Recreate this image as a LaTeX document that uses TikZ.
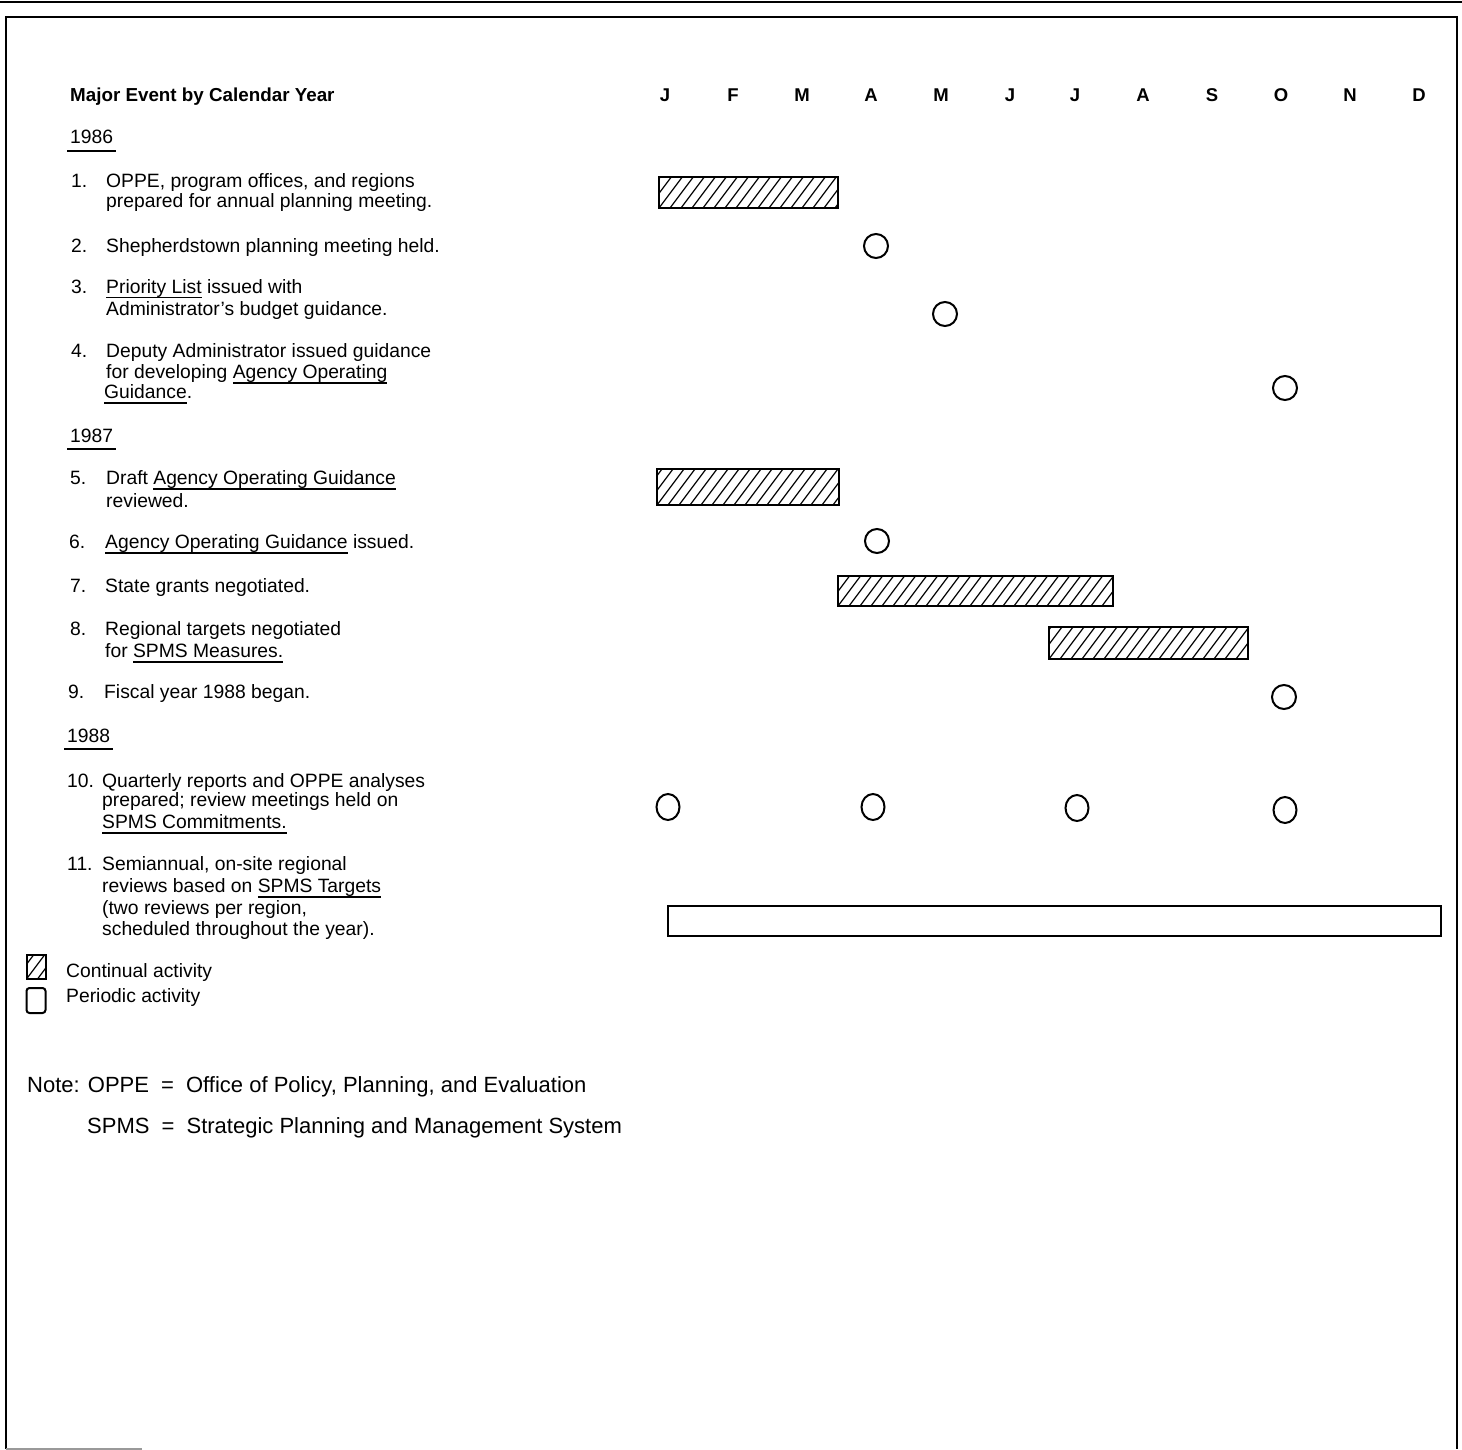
\documentclass[tikz,border=0pt]{standalone}
\usepackage{fontspec}
\setmainfont{Liberation Sans}
\usetikzlibrary{shapes.geometric}

\newsavebox\ulbox
% underlined term: rule a little below the baseline, under the descenders
\newcommand\ul[1]{\sbox\ulbox{#1}\rlap{\rule[-5.5pt]{\wd\ulbox}{1.5pt}}\usebox\ulbox}
% year heading with its short heavy rule
\newcommand\yr[1]{\sbox\ulbox{#1}\rlap{\kern-3pt\rule[-8pt]{\dimexpr\wd\ulbox+6pt\relax}{2pt}}\usebox\ulbox}

\begin{document}
\begin{tikzpicture}[x=1pt,y=-1pt,
  txt/.style={anchor=base west, inner sep=0pt, font=\fontsize{19.3}{21}\selectfont},
  head/.style={anchor=base west, inner sep=0pt, font=\fontsize{18.8}{21}\selectfont\bfseries},
  month/.style={anchor=base, inner sep=0pt, font=\fontsize{18.5}{21}\selectfont\bfseries},
  notetxt/.style={anchor=base west, inner sep=0pt, font=\fontsize{22}{26}\selectfont},
  hatchbar/.style={draw, line width=2pt, rectangle, inner sep=0pt,
    path picture={
      \foreach \i in {-4,...,28}
        \draw[line width=1.2pt] ([xshift=\i*11pt]path picture bounding box.south west) -- ++(30pt,40pt);
    }},
  openbar/.style={draw, line width=2pt, rectangle, inner sep=0pt},
  event/.style={draw, circle, line width=2pt, minimum size=24pt, inner sep=0pt},
  qevent/.style={draw, ellipse, line width=2pt, minimum width=23pt, minimum height=26pt, inner sep=0pt},
]
\useasboundingbox (0,0) rectangle (1462,1450);

% page frame
\draw[line width=2pt] (0,2) -- (1462,2);
\draw[line width=1.5pt] (6,1449) -- (6,17) -- (1457,17) -- (1457,1449);
\draw[line width=1.5pt, black!40] (6,1449) -- (142,1449);

% column heading and months
\node[head] (title) at (70,102) {Major Event by Calendar Year};
\foreach \m/\x [count=\k] in {J/665,F/733,M/802,A/871,M/941,J/1010,J/1075,A/1143,S/1212,O/1281,N/1350,D/1419}
  \node[month] (m\k) at (\x,102) {\m};

% 1986
\node[txt] (y86) at (70,144) {\yr{1986}};

\node[txt] (n1) at (71,188) {1.};
\node[txt] (t1a) at (106,188) {OPPE, program offices, and regions};
\node[txt] (t1b) at (106,208) {prepared for annual planning meeting.};

\node[txt] (n2) at (71,252) {2.};
\node[txt] (t2a) at (106,252) {Shepherdstown planning meeting held.};

\node[txt] (n3) at (71,293) {3.};
\node[txt] (t3a) at (106,293) {\ul{Priority List} issued with};
\node[txt] (t3b) at (106,315) {Administrator’s budget guidance.};

\node[txt] (n4) at (71,357) {4.};
\node[txt] (t4a) at (106,357) {Deputy Administrator issued guidance};
\node[txt] (t4b) at (106,378) {for developing \ul{Agency Operating}};
\node[txt] (t4c) at (104,398) {\ul{Guidance}.};

% 1987
\node[txt] (y87) at (70,442) {\yr{1987}};

\node[txt] (n5) at (70,484) {5.};
\node[txt] (t5a) at (106,484) {Draft \ul{Agency Operating Guidance}};
\node[txt] (t5b) at (106,507) {reviewed.};

\node[txt] (n6) at (69,548) {6.};
\node[txt] (t6a) at (105,548) {\ul{Agency Operating Guidance} issued.};

\node[txt] (n7) at (70,592) {7.};
\node[txt] (t7a) at (105,592) {State grants negotiated.};

\node[txt] (n8) at (70,635) {8.};
\node[txt] (t8a) at (105,635) {Regional targets negotiated};
\node[txt] (t8b) at (105,657) {for \ul{SPMS Measures.}};

\node[txt] (n9) at (68,698) {9.};
\node[txt] (t9a) at (104,698) {Fiscal year 1988 began.};

% 1988
\node[txt] (y88) at (67,742) {\yr{1988}};

\node[txt] (n10) at (67,787) {10.};
\node[txt] (t10a) at (102,787) {Quarterly reports and OPPE analyses};
\node[txt] (t10b) at (102,806) {prepared; review meetings held on};
\node[txt] (t10c) at (102,828) {\ul{SPMS Commitments.}};

\node[txt] (n11) at (67,870) {11.};
\node[txt] (t11a) at (102,870) {Semiannual, on-site regional};
\node[txt] (t11b) at (102,892) {reviews based on \ul{SPMS Targets}};
\node[txt] (t11c) at (102,914) {(two reviews per region,};
\node[txt] (t11d) at (102,935) {scheduled throughout the year).};

% schedule marks
\node[hatchbar, minimum width=179pt, minimum height=31pt] (b1) at (748.5,192.5) {};
\node[event] (c2) at (876,246) {};
\node[event] (c3) at (945,314) {};
\node[event] (c4) at (1285,388) {};
\node[hatchbar, minimum width=182pt, minimum height=36pt] (b5) at (748,487) {};
\node[event] (c6) at (877,541) {};
\node[hatchbar, minimum width=275pt, minimum height=30pt] (b7) at (975.5,591) {};
\node[hatchbar, minimum width=199pt, minimum height=32pt] (b8) at (1148.5,643) {};
\node[event] (c9) at (1284,697) {};
\node[qevent] (q1) at (668,807) {};
\node[qevent] (q2) at (873,807) {};
\node[qevent] (q3) at (1077,808) {};
\node[qevent] (q4) at (1285,810) {};
\node[openbar, minimum width=773pt, minimum height=30pt] (b11) at (1054.5,920.5) {};

% legend
\node[hatchbar, minimum width=19pt, minimum height=24pt] (lg1) at (36,967) {};
\node[txt] (lt1) at (66,977) {Continual activity};
\node[openbar, rounded corners=3pt, minimum width=19pt, minimum height=25pt] (lg2) at (36,1000.5) {};
\node[txt] (lt2) at (66,1002) {Periodic activity};

% abbreviations
\node[notetxt] (note1) at (27,1092) {Note: OPPE\hspace{0.55em}=\hspace{0.55em}Office of Policy, Planning, and Evaluation};
\node[notetxt] (note2) at (87,1133) {SPMS\hspace{0.55em}=\hspace{0.55em}Strategic Planning and Management System};
\end{tikzpicture}
\end{document}
